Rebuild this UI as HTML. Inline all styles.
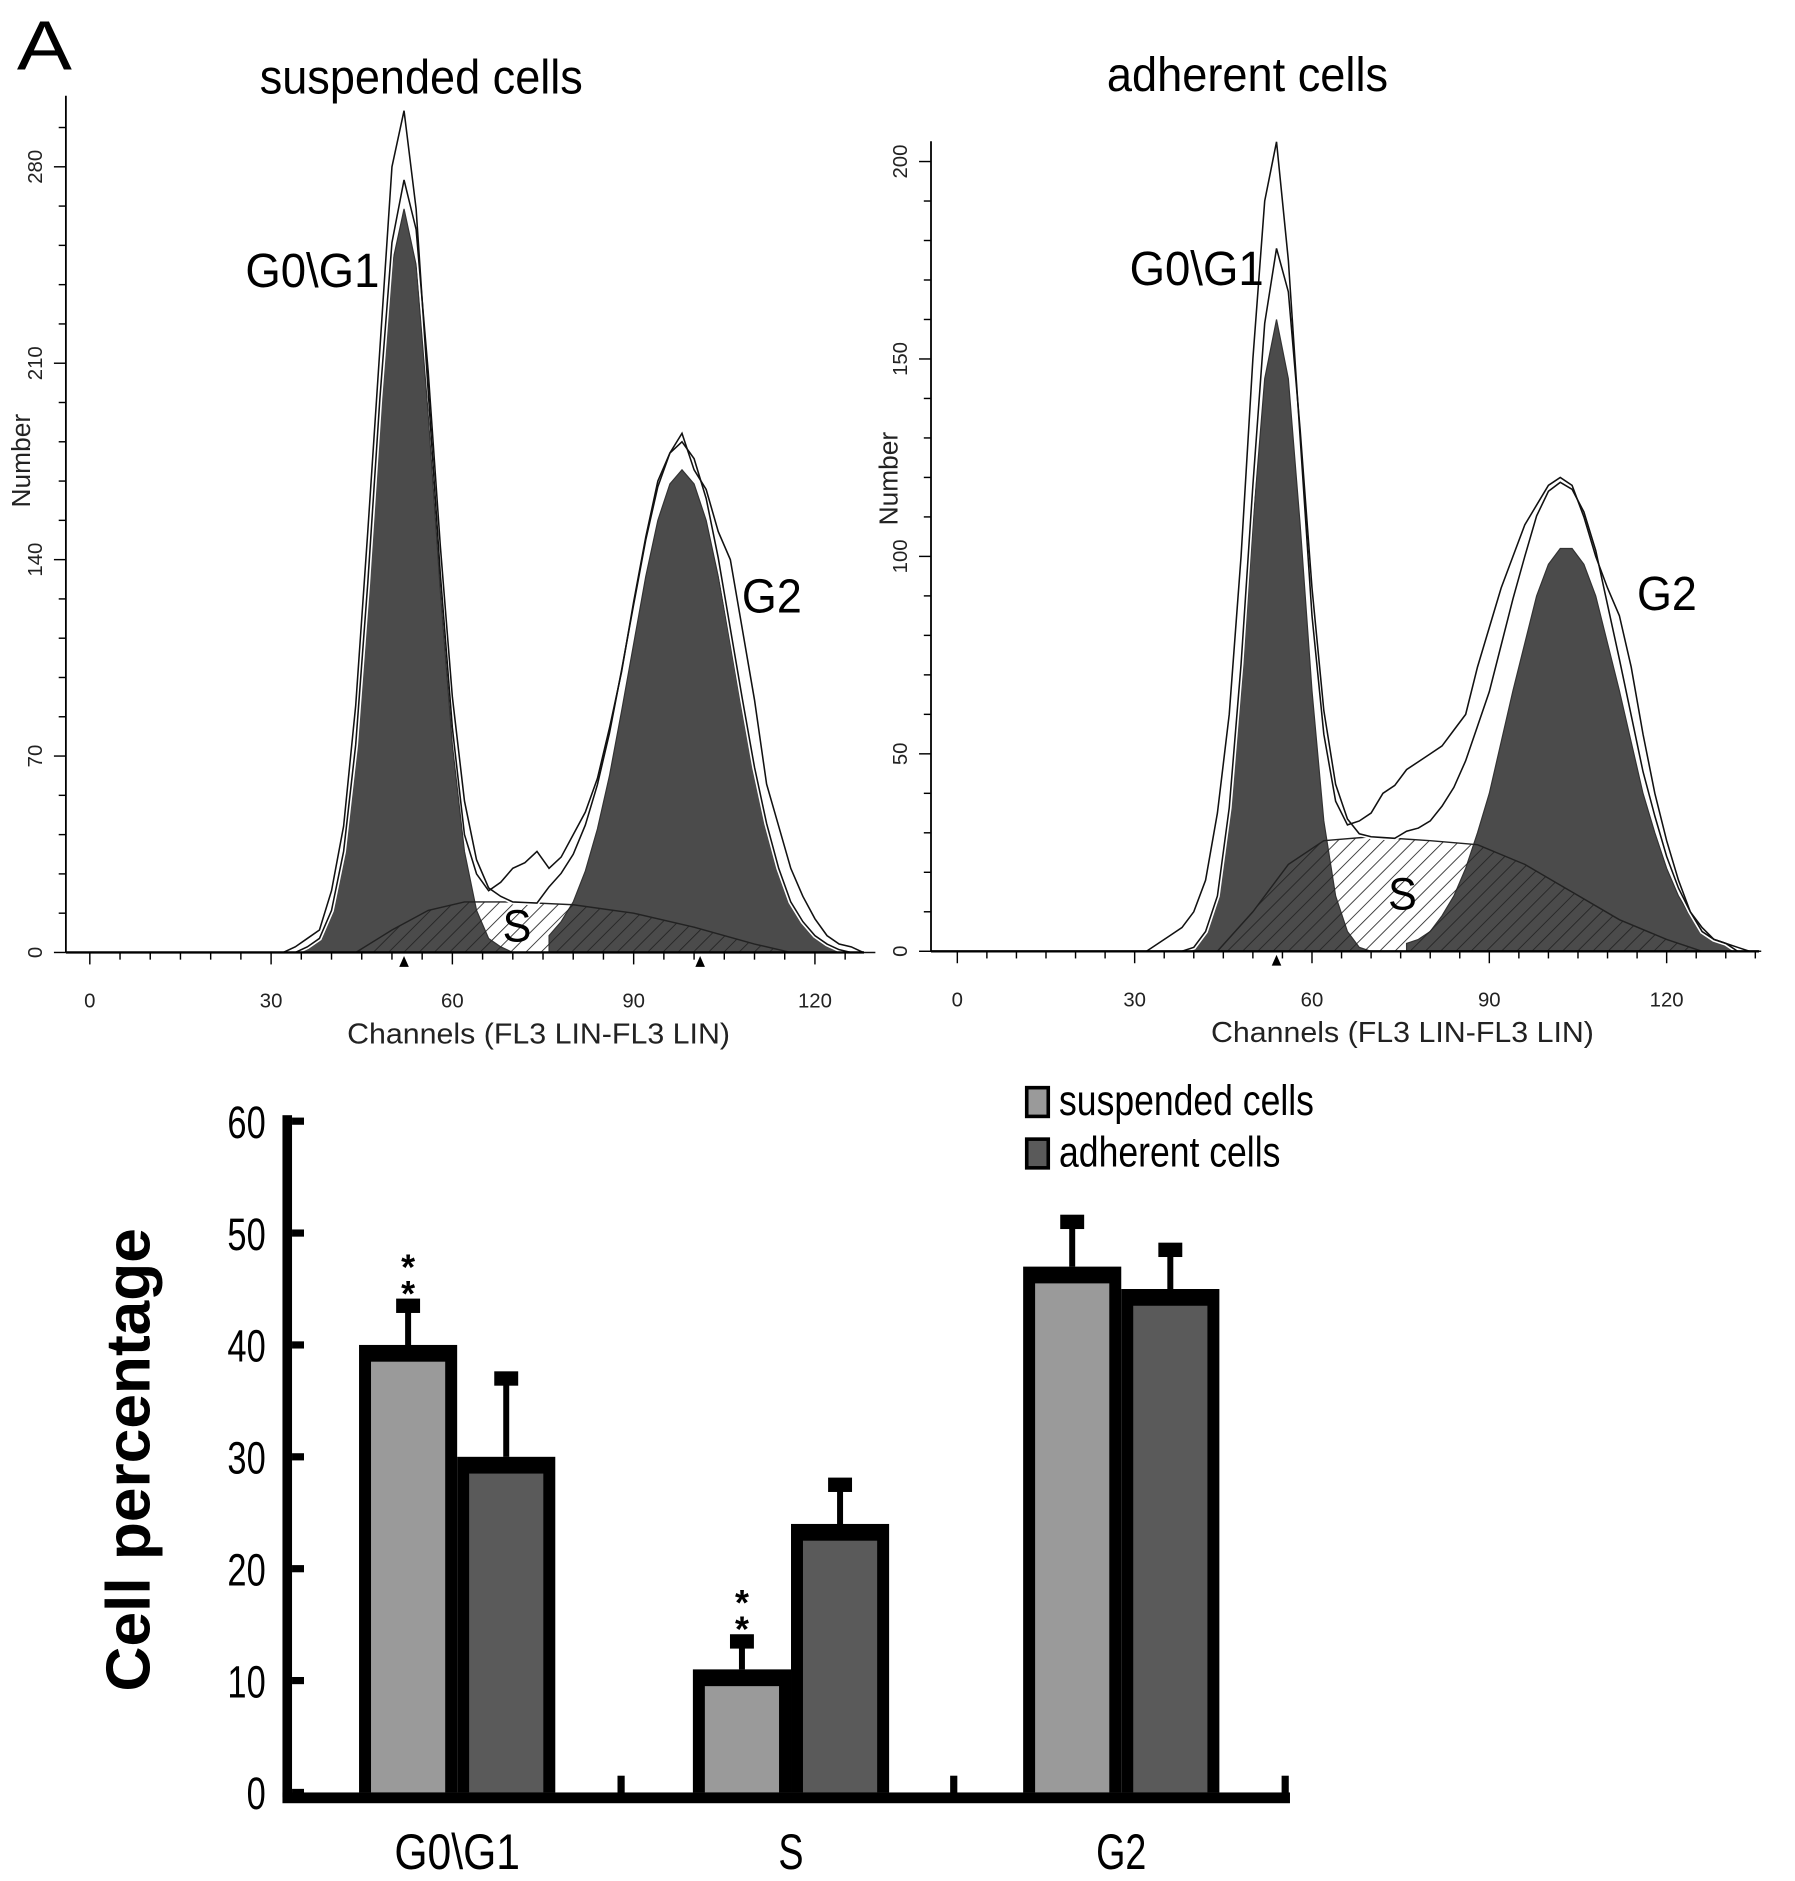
<!DOCTYPE html>
<html><head><meta charset="utf-8"><style>
html,body{margin:0;padding:0;background:#fff}
svg{display:block}
text{font-family:"Liberation Sans",sans-serif}
</style></head><body>
<svg id="fig" xmlns="http://www.w3.org/2000/svg" width="1795" height="1881" viewBox="0 0 1500 1572">
<defs>
<pattern id="hatch" patternUnits="userSpaceOnUse" width="9" height="9" patternTransform="rotate(45)">
<line x1="0" y1="0" x2="0" y2="9" stroke="#222" stroke-width="1.4"/>
</pattern>
</defs>
<rect width="1500" height="1572" fill="#fff"/>
<text x="14" y="58" font-size="58" textLength="46" lengthAdjust="spacingAndGlyphs">A</text>
<text x="217" y="78" font-size="40" textLength="270" lengthAdjust="spacingAndGlyphs">suspended cells</text>
<text x="925" y="76" font-size="40" textLength="235" lengthAdjust="spacingAndGlyphs">adherent cells</text>
<g id="hl"></g><g id="hr"></g><g id="bars"></g>
</svg>
<script>
// ---------- histogram data (channels step 2) ----------
const chStart = 30, chStep = 2;
const leftG1 = [0,0,0,2,5,15,36,74,129,192,245,265,245,192,129,74,36,15,5,2,0];
const leftG2Start = 76;
const leftG2 = [6,11,18,29,44,63,86,110,134,154,167,172,167,154,134,110,86,63,44,29,18,11,6,3,1];
const leftSch = [44,50,56,62,70,80,90,100,110,116];
const leftS = [0,8,15,18,18,17,14,9,3,0];
const leftRaw = [0,0,2,5,8,22,45,88,150,215,280,300,265,200,135,80,42,28,22,25,30,32,36,30,34,42,50,62,80,100,125,148,168,178,185,172,165,150,140,115,90,60,45,30,20,12,6,3,2,0,0];
const rightG1 = [0,0,0,0,0,1,5,14,33,66,108,145,160,145,108,66,33,14,5,1,0];
const rightG2Start = 76;
const rightG2 = [2,3,5,9,14,21,30,40,53,66,78,90,98,102,102,98,90,78,66,53,40,30,21,14,9,5,3,2,0];
const rightSch = [44,50,56,62,70,80,88,96,104,112,120,126];
const rightS = [0,10,22,28,29,28,27,22,15,8,3,0];
const rightRaw = [0,0,2,4,6,10,18,35,60,100,150,190,205,175,130,85,55,38,32,33,35,40,42,46,48,50,52,56,60,72,82,92,100,108,113,118,120,118,110,100,92,85,72,55,40,28,18,10,6,3,2,1,0,0];
const leftXTicks = [0,30,60,90,120], leftYTicks = [0,70,140,210,280];
const rightXTicks = [0,30,60,90,120], rightYTicks = [0,50,100,150,200];

// ---------- bar data ----------
const categories = ["G0\\G1","S","G2"];
const suspended = [40,11,47];
const adherent = [30,24,45];
const suspErr = [3.5,2.5,4];
const adhErr = [7,3.5,3.5];
const sig = [true,true,false];
const barYTicks = [0,10,20,30,40,50,60];

const NS="http://www.w3.org/2000/svg";
function mk(tag,attrs,parent){const e=document.createElementNS(NS,tag);for(const k in attrs)e.setAttribute(k,attrs[k]);parent.appendChild(e);return e;}

function interpS(ch,sCh,sV){if(ch<=sCh[0]||ch>=sCh[sCh.length-1])return 0;for(let i=0;i<sCh.length-1;i++){if(ch>=sCh[i]&&ch<=sCh[i+1]){const t=(ch-sCh[i])/(sCh[i+1]-sCh[i]);return sV[i]+t*(sV[i+1]-sV[i]);}}return 0;}
function sumAt(ch,g1,g2Start,g2,sCh,sV){
  let v=0;const i1=Math.round((ch-chStart)/chStep);if(i1>=0&&i1<g1.length)v+=g1[i1];
  const i2=Math.round((ch-g2Start)/chStep);if(i2>=0&&i2<g2.length)v+=g2[i2];
  v+=interpS(ch,sCh,sV);return v;
}

function hist(g,o){
  const X=c=>o.x0+c*o.sx, Y=v=>o.y0-v*o.sy;
  const ya=mk('line',{x1:o.ax,y1:o.ytop,x2:o.ax,y2:o.y0,stroke:'#000','stroke-width':1.5},g);
  
  let p=o.sCh.map((c,i)=>X(c)+','+Y(o.sV[i])).join(' ');
  const sPoly=p+` ${X(o.sCh[o.sCh.length-1])},${o.y0} ${X(o.sCh[0])},${o.y0}`;
  mk('polygon',{points:sPoly,fill:'#fff'},g);
  let pts=[];o.g1.forEach((v,i)=>pts.push(X(chStart+i*chStep)+','+Y(v)));
  const g1=mk('polygon',{points:`${X(chStart)},${o.y0} `+pts.join(' ')+` ${X(chStart+(o.g1.length-1)*chStep)},${o.y0}`,fill:'#4b4b4b',stroke:'#333','stroke-width':1},g);
  
  pts=[];o.g2.forEach((v,i)=>pts.push(X(o.g2Start+i*chStep)+','+Y(v)));
  const g2=mk('polygon',{points:`${X(o.g2Start)},${o.y0} `+pts.join(' ')+` ${X(o.g2Start+(o.g2.length-1)*chStep)},${o.y0}`,fill:'#4b4b4b',stroke:'#333','stroke-width':1},g);
  
  const sh=mk('polygon',{points:sPoly,fill:'url(#hatch)',stroke:'#222','stroke-width':1.2},g);
  
  pts=[];for(let c=chStart;c<=o.maxCh;c+=chStep)pts.push(X(c)+','+Y(sumAt(c,o.g1,o.g2Start,o.g2,o.sCh,o.sV)));
  mk('polyline',{points:pts.join(' '),fill:'none',stroke:'#fff','stroke-width':4},g);
  const ft=mk('polyline',{points:pts.join(' '),fill:'none',stroke:'#111','stroke-width':1.3},g);
  
  pts=o.raw.map((v,i)=>X(chStart+i*chStep)+','+Y(v));
  const rw=mk('polyline',{points:pts.join(' '),fill:'none',stroke:'#111','stroke-width':1.3},g);
  
  const xa=mk('line',{x1:o.ax,y1:o.y0,x2:o.xend,y2:o.y0,stroke:'#000','stroke-width':2},g);
  
  for(let c=0;X(c)<o.xend;c+=5){mk('line',{x1:X(c),y1:o.y0,x2:X(c),y2:o.y0+(c%30==0?10:6),stroke:'#000','stroke-width':1.2},g);}
  o.xt.forEach(t=>{const e=mk('text',{x:X(t),y:o.y0+46,'font-size':17,'text-anchor':'middle',fill:'#222'},g);e.textContent=t;
    });
  for(let v=0;Y(v)>o.ytop;v+=o.yminor){mk('line',{x1:o.ax-(v%o.ymaj==0?10:6),y1:Y(v),x2:o.ax,y2:Y(v),stroke:'#000','stroke-width':1.2},g);}
  o.yt.forEach(t=>{const e=mk('text',{x:o.ax-20,y:Y(t),'font-size':17,'text-anchor':'middle',fill:'#222',transform:`rotate(-90 ${o.ax-20} ${Y(t)})`},g);e.textContent=t;
    });
  o.marks.forEach(c=>mk('polygon',{points:`${X(c)-4},${o.y0+12} ${X(c)+4},${o.y0+12} ${X(c)},${o.y0+3}`,fill:'#000'},g));
  let e=mk('text',{x:o.ax-o.nameDx,y:o.nameY,'font-size':22,'text-anchor':'middle',fill:'#222',transform:`rotate(-90 ${o.ax-o.nameDx} ${o.nameY})`},g);e.textContent='Number';
  
  e=mk('text',{x:o.xtitleX,y:o.y0+76,'font-size':24,'text-anchor':'middle',fill:'#222',textLength:320,lengthAdjust:'spacingAndGlyphs'},g);e.textContent='Channels (FL3 LIN-FL3 LIN)';
  
  e=mk('text',{x:o.g1lx,y:o.g1ly,'font-size':40,textLength:112,lengthAdjust:'spacingAndGlyphs'},g);e.textContent='G0\\G1';
  
  e=mk('text',{x:o.g2lx,y:o.g2ly,'font-size':40,textLength:50,lengthAdjust:'spacingAndGlyphs'},g);e.textContent='G2';
  
  e=mk('text',{x:o.slx,y:o.sly,'font-size':38,textLength:24,lengthAdjust:'spacingAndGlyphs'},g);e.textContent='S';
  
}
hist(document.getElementById('hl'),{x0:75,sx:5.05,y0:796,sy:2.345,ax:55,ytop:80,xend:722,maxCh:128,g1:leftG1,g2Start:leftG2Start,g2:leftG2,sCh:leftSch,sV:leftS,raw:leftRaw,xt:leftXTicks,yt:leftYTicks,yminor:14,ymaj:70,marks:[52,101],nameDx:30,nameY:385,xtitleX:450,g1lx:205,g1ly:240,g2lx:620,g2ly:512,slx:420,sly:787});
hist(document.getElementById('hr'),{x0:800,sx:4.94,y0:795,sy:3.3,ax:778,ytop:118,xend:1470,maxCh:134,g1:rightG1,g2Start:rightG2Start,g2:rightG2,sCh:rightSch,sV:rightS,raw:rightRaw,xt:rightXTicks,yt:rightYTicks,yminor:10,ymaj:50,marks:[54],nameDx:28,nameY:400,xtitleX:1172,g1lx:944,g1ly:238,g2lx:1368,g2ly:510,slx:1160,sly:760});

// ---------- bar chart ----------
(function(){
  const g=document.getElementById('bars');
  const y0=1498, per=9.35, Y=v=>y0-v*per;
  const groupX=[300,579,855], bw=82;
  categories.forEach((c,i)=>{
    [[suspended,suspErr,'#9a9a9a','suspended'],[adherent,adhErr,'#5a5a5a','adherent']].forEach((s,j)=>{
      const x=groupX[i]+j*bw, v=s[0][i], top=Y(v), e=s[1][i];
      const el=Y(v+e);
      mk('line',{x1:x+bw/2,y1:top,x2:x+bw/2,y2:el,stroke:'#000','stroke-width':5},g);
      const cap=mk('rect',{x:x+bw/2-10,y:el-6,width:20,height:12,fill:'#000'},g);
      
      const r=mk('rect',{x:x,y:top,width:bw,height:y0-top,fill:'#000'},g);
      
      mk('rect',{x:x+10,y:top+14,width:bw-20,height:Math.max(0,y0-top-14),fill:s[2]},g);
      if(j==0&&sig[i]){
        [0,1].forEach(k=>{const t=mk('text',{x:x+bw/2,y:el-k*22,'font-size':30,'text-anchor':'middle','font-weight':'bold'},g);t.textContent='*';
          });
      }
    });
    const t=mk('text',{x:groupX[i]+bw,y:1562,'font-size':42,'text-anchor':'middle',textLength:c.length*21,lengthAdjust:'spacingAndGlyphs'},g);t.textContent=c;
    
  });
  const ya=mk('rect',{x:236,y:932,width:8,height:y0-928,fill:'#000'},g);
  
  const xa=mk('rect',{x:236,y:y0,width:842,height:9,fill:'#000'},g);
  
  [519,797,1074].forEach(x=>mk('rect',{x:x-3,y:y0-14,width:6,height:16,fill:'#000'},g));
  barYTicks.forEach(t=>{mk('rect',{x:244,y:Y(t)-3,width:10,height:6,fill:'#000'},g);
    const e=mk('text',{x:222,y:Y(t)+14,'font-size':38,'text-anchor':'end',textLength:t>=10?32:16,lengthAdjust:'spacingAndGlyphs'},g);e.textContent=t;
    });
  const yt=mk('text',{x:125,y:1220,'font-size':52,'font-weight':'bold','text-anchor':'middle',transform:'rotate(-90 125 1220)'},g);yt.textContent='Cell percentage';
  
  [['suspended cells','#9a9a9a',909],['adherent cells','#5a5a5a',952]].forEach((l,i)=>{
    const r=mk('rect',{x:858,y:l[2],width:18,height:24,fill:l[1],stroke:'#000','stroke-width':3},g);
    
    const t=mk('text',{x:885,y:l[2]+23,'font-size':36,textLength:i==0?213:185,lengthAdjust:'spacingAndGlyphs'},g);t.textContent=l[0];
    
  });
})();
</script>
</body></html>
